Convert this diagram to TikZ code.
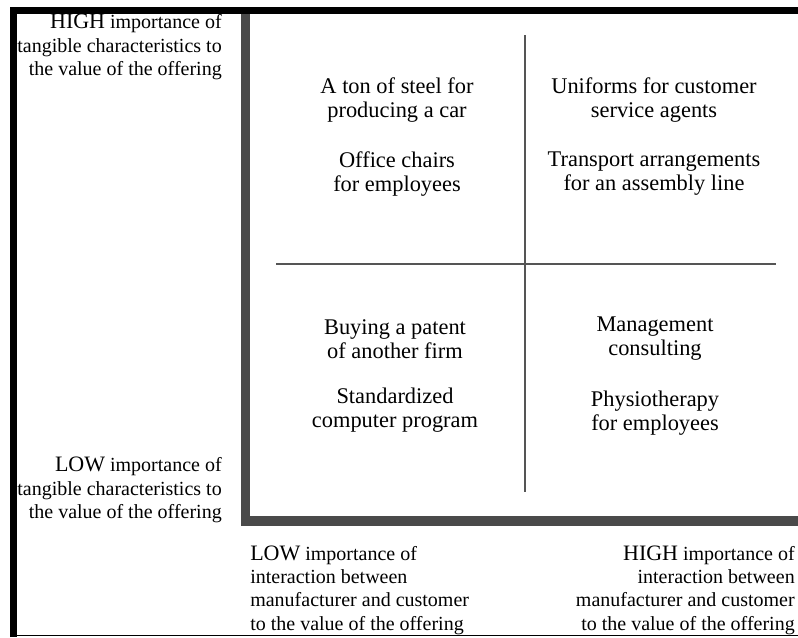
\documentclass[tikz,border=0pt]{standalone}
\usepackage{fontspec}
\setmainfont{Liberation Serif}
\usetikzlibrary{positioning}
\definecolor{axisgray}{HTML}{4A4A4A}
\definecolor{linegray}{HTML}{555555}

\begin{document}
\begin{tikzpicture}[x=0.75pt, y=-0.75pt, node distance={22pt},
    quad/.style = {align=center, inner sep=0pt, font=\fontsize{16.8}{18}\selectfont},
    side/.style = {inner sep=0pt, font=\fontsize{15}{17.5}\selectfont}]
    \useasboundingbox (0,0) rectangle (798,637);
    % outer frame
    \draw[line width=5.25pt] (13.5,637) -- (13.5,10.5) -- (798,10.5);
    \draw[line width=1.2pt] (10,635.5) -- (798,635.5);
    % axes
    \coordinate (top) at (245.5,14);
    \coordinate (origin) at (245.5,521);
    \coordinate (right) at (798,521);
    \draw[axisgray, line width=7pt] (top) -- (origin) -- (right);
    % quadrant lines
    \coordinate (vtop) at (525,35);
    \coordinate (vbot) at (525,492);
    \coordinate (hleft) at (276,264);
    \coordinate (hright) at (776,264);
    \draw[linegray, line width=1.5pt] (vtop) -- (vbot);
    \draw[linegray, line width=1.5pt] (hleft) -- (hright);
    % quadrant texts
    \node[quad] (tl1) at (397,100) {A ton of steel for\\producing a car};
    \node[quad] (tl2) [below=of tl1] {Office chairs\\for employees};
    \node[quad] (tr1) at (654,100) {Uniforms for customer\\service agents};
    \node[quad] (tr2) [below=of tr1] {Transport arrangements\\for an assembly line};
    \node[quad] (bl1) at (395,339) {Buying a patent\\of another firm};
    \node[quad] (bl2) [below=of bl1] {Standardized\\computer program};
    \node[quad] (br1) at (655,339) {Management\\consulting};
    \node[quad] (br2) [below=of br1] {Physiotherapy\\for employees};
    % axis labels
    \node[side, align=right, anchor=east] (yhigh) at (222,47)
        {{\fontsize{16.5}{17.5}\selectfont HIGH} importance of\\tangible characteristics to\\the value of the offering};
    \node[side, align=right, anchor=east] (ylow) at (222,490)
        {{\fontsize{16.5}{17.5}\selectfont LOW} importance of\\tangible characteristics to\\the value of the offering};
    \node[side, align=left, anchor=west] (xlow) at (250,590)
        {{\fontsize{16.5}{17.5}\selectfont LOW} importance of\\interaction between\\manufacturer and customer\\to the value of the offering};
    \node[side, align=right, anchor=east] (xhigh) at (795,590)
        {{\fontsize{16.5}{17.5}\selectfont HIGH} importance of\\interaction between\\manufacturer and customer\\to the value of the offering};
\end{tikzpicture}
\end{document}
